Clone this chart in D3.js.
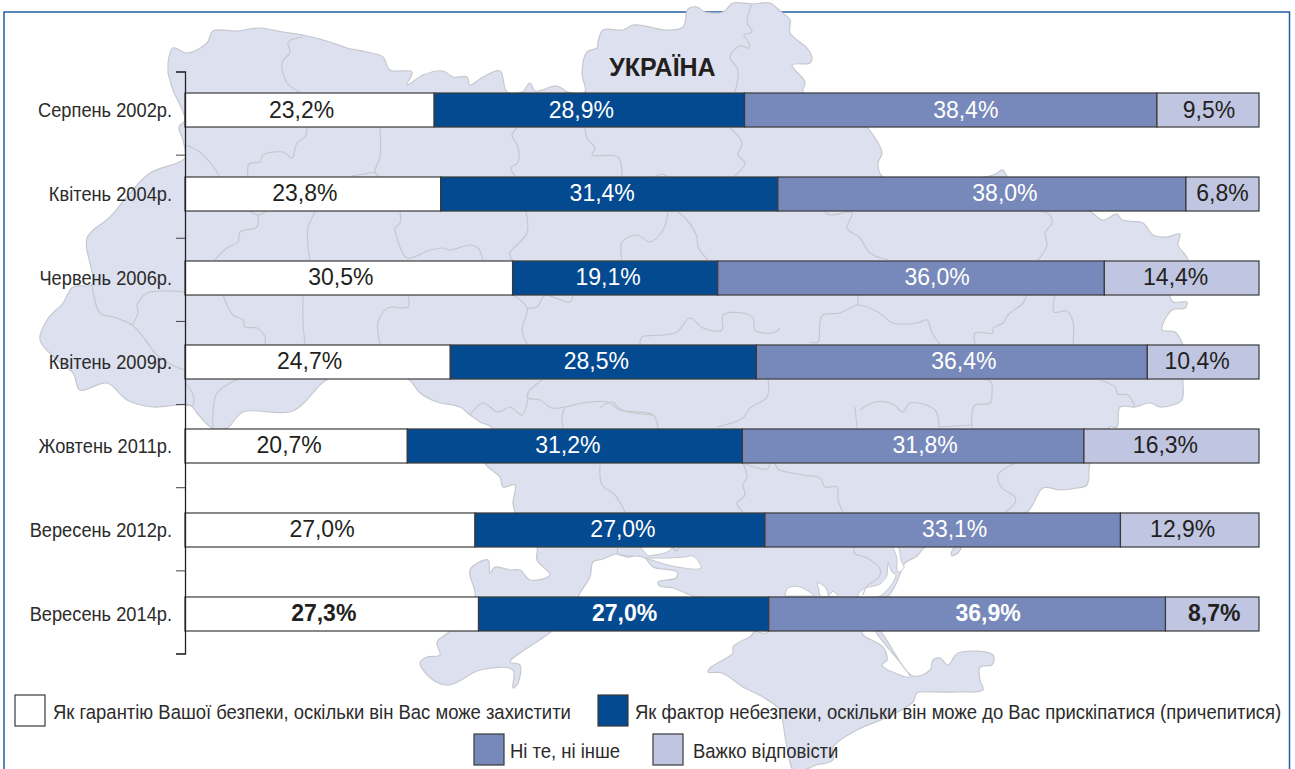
<!DOCTYPE html>
<html>
<head>
<meta charset="utf-8">
<script src="https://cdn.jsdelivr.net/npm/d3@7"></script>
<style>
body { margin: 0; background: #fff; }
text { font-family: "Liberation Sans", Arial, sans-serif; fill: #231f20; }
</style>
</head>
<body>
<script>
//width and height of svg
var w = 1295;
var h = 769;

//chart data
var categories = ["Серпень 2002р.", "Квітень 2004р.", "Червень 2006р.", "Квітень 2009р.", "Жовтень 2011р.", "Вересень 2012р.", "Вересень 2014р."];
var guarantee = [23.2, 23.8, 30.5, 24.7, 20.7, 27.0, 27.3];
var danger = [28.9, 31.4, 19.1, 28.5, 31.2, 27.0, 27.0];
var neither = [38.4, 38.0, 36.0, 36.4, 31.8, 33.1, 36.9];
var hardToSay = [9.5, 6.8, 14.4, 10.4, 16.3, 12.9, 8.7];
var seriesNames = ["Як гарантію Вашої безпеки, оскільки він Вас може захистити",
    "Як фактор небезпеки, оскільки він може до Вас прискіпатися (причепитися)",
    "Ні те, ні інше",
    "Важко відповісти"];
var title = "УКРАЇНА";

//background map of Ukraine, traced by hand
var land = [[168,63],[173,48],[187,53],[207,43],[213,31],[237,31],[260,28],[283,32],[303,35],[330,42],[347,48],[367,52],[383,57],[390,70],[412,72],[407,85],[423,75],[443,71],[453,77],[467,77],[470,85],[483,77],[500,71],[507,92],[522,92],[530,83],[535,91],[557,86],[568,92],[585,92],[582,73],[587,52],[597,48],[598,42],[603,30],[623,30],[633,25],[650,27],[665,30],[683,27],[688,9],[697,7],[705,12],[723,12],[733,3],[752,4],[770,3],[780,11],[790,20],[790,33],[807,48],[812,58],[810,63],[792,65],[805,82],[803,92],[840,100],[868,128],[882,153],[878,163],[883,177],[950,180],[993,175],[1003,170],[1008,177],[1060,190],[1090,211],[1103,220],[1117,214],[1122,220],[1143,223],[1153,235],[1167,237],[1180,234],[1178,245],[1188,260],[1180,280],[1170,295],[1173,302],[1187,302],[1185,308],[1172,310],[1162,330],[1175,332],[1183,345],[1186,360],[1183,378],[1182,400],[1173,405],[1160,407],[1150,403],[1135,407],[1120,407],[1117,427],[1110,427],[1100,445],[1090,463],[1087,485],[1077,488],[1060,490],[1043,488],[1027,512],[970,530],[925,547],[917,556],[905,563],[902,569],[888,596],[860,600],[800,600],[700,597],[693,596],[673,588],[660,586],[658,582],[676,578],[677,572],[653,567],[645,558],[637,556],[627,557],[617,554],[603,559],[593,562],[590,577],[580,593],[572,610],[552,631],[510,662],[520,665],[518,683],[513,688],[513,670],[480,670],[450,685],[433,680],[420,663],[427,657],[440,655],[437,642],[450,631],[475,597],[470,570],[488,560],[490,573],[495,567],[510,570],[520,570],[530,580],[550,575],[537,560],[537,547],[525,530],[515,512],[513,503],[515,485],[503,487],[500,477],[485,463],[490,445],[492,428],[480,422],[470,415],[460,407],[437,402],[420,393],[408,379],[370,372],[328,379],[293,411],[243,412],[227,428],[212,428],[197,413],[190,405],[177,405],[153,407],[127,400],[107,383],[80,390],[73,373],[57,360],[40,340],[47,320],[63,303],[73,287],[92,284],[87,238],[110,217],[130,193],[150,173],[177,163],[185,158],[183,140],[179,127],[185,120],[173,90],[168,73]];
var crimea = [[755,631],[767,633],[768,628],[860,628],[863,635],[883,647],[887,660],[882,665],[900,675],[910,677],[875,630],[879,630],[913,676],[930,670],[933,660],[940,658],[948,665],[958,653],[993,655],[992,665],[980,667],[980,680],[983,690],[960,692],[933,692],[917,693],[913,702],[890,716],[857,730],[833,747],[833,760],[816,765],[795,772],[787,747],[783,723],[780,710],[763,697],[743,687],[722,673],[708,672],[710,668],[733,653],[733,647],[750,637]];
var spit = [[952,556],[958,553],[961,547],[955,547],[951,553]];
var water = [
    [[645,558],[668,558],[685,557],[693,556],[701,568],[677,567],[655,561]],
    [[640,547],[672,547],[667,552],[648,556]],
    [[888,562],[892,572],[896,575],[880,596],[858,596],[863,589],[880,584],[887,576]],
    [[893,547],[898,547],[901,560],[904,568],[898,572],[897,558]],
    [[785,596],[788,588],[800,587],[815,596]],
    [[817,582],[825,587],[828,596],[820,596]],
    [[833,591],[838,596],[828,596]]
];
var borders = [
    [[303,37],[288,42],[290,52],[282,63],[287,83],[300,92]],
    [[185,145],[200,152],[212,165],[220,177]],
    [[248,177],[249,164],[260,162],[263,155],[283,152],[292,158],[297,143],[305,137],[307,127]],
    [[380,127],[380,157],[375,172],[380,177]],
    [[352,176],[375,172]],
    [[250,211],[258,215],[265,212]],
    [[258,215],[257,227],[240,232],[238,242],[227,248],[215,260]],
    [[315,212],[308,228],[308,247],[310,260]],
    [[400,212],[400,223],[395,228],[397,238],[407,258],[430,250],[443,248],[450,250],[470,245],[478,248],[483,260]],
    [[526,212],[527,233],[510,253],[512,260]],
    [[622,260],[622,242],[637,235],[650,242],[663,230],[668,212]],
    [[678,212],[687,220],[697,237],[698,247],[708,260]],
    [[825,212],[830,215],[852,213],[847,228],[860,238],[870,253],[888,260]],
    [[1038,260],[1047,245],[1045,233],[1052,223],[1050,215],[1040,211]],
    [[517,128],[512,135],[518,147],[518,162],[511,168],[515,176]],
    [[585,128],[587,138],[595,148],[592,155],[618,157],[622,176]],
    [[730,128],[742,143],[738,155],[745,163],[735,176]],
    [[655,177],[662,174],[668,177]],
    [[752,4],[747,22],[752,32],[744,35],[750,45],[748,48],[740,46],[730,57],[738,70],[735,92]],
    [[132,325],[138,313],[137,305],[147,293],[163,291],[185,292]],
    [[92,285],[100,313],[113,317],[132,325],[147,342],[155,353],[172,365],[185,370]],
    [[223,295],[233,315],[243,320],[245,327],[257,328],[265,337],[265,344]],
    [[303,295],[303,322],[305,344]],
    [[408,295],[408,307],[388,308],[378,322],[378,333],[380,344]],
    [[513,295],[527,308],[522,330],[527,344]],
    [[527,308],[537,307],[545,295],[553,297],[570,302],[573,295]],
    [[640,344],[642,337],[663,335],[677,332],[690,318],[703,328],[722,330],[723,315],[743,313],[753,318],[755,330],[773,333],[780,328]],
    [[810,342],[818,342],[820,322],[823,315],[840,313],[858,305],[878,312],[893,323],[917,323],[927,320],[932,333],[940,344]],
    [[858,295],[858,305]],
    [[1027,295],[1023,303],[1008,315],[1003,323],[993,328],[993,333],[975,333],[975,344]],
    [[1055,295],[1054,312],[1067,311],[1073,322],[1073,344]],
    [[1100,380],[1115,387],[1118,394],[1128,395],[1135,407]],
    [[983,379],[991,382],[992,393],[990,403],[975,405],[972,413],[972,428]],
    [[972,425],[938,427]],
    [[860,410],[875,402],[893,404],[903,412],[910,403],[935,410],[939,427]],
    [[768,379],[767,397],[750,408],[743,418],[717,427]],
    [[600,408],[612,402],[622,410],[653,415],[658,428]],
    [[543,379],[528,393],[528,398],[540,400],[552,408],[565,407],[583,403],[607,402],[620,410],[653,415]],
    [[565,407],[562,417],[563,428]],
    [[528,398],[522,415],[510,407],[498,412],[483,403],[470,415]],
    [[855,407],[857,428]],
    [[238,379],[217,393],[213,413],[213,428]],
    [[185,382],[193,395],[193,405],[185,405]],
    [[743,463],[747,477],[743,485],[745,495],[737,503],[743,512]],
    [[743,463],[767,469],[770,463]],
    [[775,463],[778,469],[803,475],[820,478],[825,487],[837,487],[838,500],[843,512]],
    [[1015,463],[998,475],[1002,488],[1015,497],[1015,503],[1005,512]],
    [[600,465],[602,485],[615,495],[625,512]],
    [[854,547],[855,554],[865,557],[880,569],[879,577],[867,586],[863,595]],
    [[618,547],[618,554],[627,556],[633,556]],
    [[672,547],[677,551],[679,547]]
];

//set up the stack, each row is stretched to the full width
var rows = categories.map(function(c, i) {
    return { category: c, guarantee: guarantee[i], danger: danger[i], neither: neither[i], hardToSay: hardToSay[i] };
});
var keys = ["guarantee", "danger", "neither", "hardToSay"];
var stacks = d3.stack().keys(keys).offset(d3.stackOffsetExpand);
var color = d3.scaleOrdinal().domain(keys).range(["#ffffff", "#034a90", "#7789ba", "#c0c6e1"]);
var labelColor = d3.scaleOrdinal().domain(keys).range(["#231f20", "#ffffff", "#ffffff", "#231f20"]);

//set up the svg canvas
var svg = d3.select("body")
            .append("svg")
            .attr("width", w)
            .attr("height", h)
            .style("display", "block");

//blue frame
svg.append("rect")
    .attr("x", 4).attr("y", 12)
    .attr("width", 1285.5).attr("height", 770)
    .attr("fill", "none")
    .attr("stroke", "#1f5fa5")
    .attr("stroke-width", 1.5);

//map goes behind everything else
var mapLine = d3.line().curve(d3.curveCatmullRom.alpha(0.5));
var map = svg.append("g");
[land, crimea, spit].forEach(function(p) {
    map.append("path")
        .attr("d", mapLine(p) + "Z")
        .attr("fill", "#dde0ee")
        .attr("stroke", "#c6c8ce")
        .attr("stroke-width", 1.2);
});
water.forEach(function(p) {
    map.append("path")
        .attr("d", mapLine(p) + "Z")
        .attr("fill", "#ffffff")
        .attr("stroke", "#c6c8ce")
        .attr("stroke-width", 1);
});
borders.forEach(function(p) {
    map.append("path")
        .attr("d", mapLine(p))
        .attr("fill", "none")
        .attr("stroke", "#c6c8ce")
        .attr("stroke-width", 1.2);
});

//scales
var xScale = d3.scaleLinear().domain([0, 1]).range([185, 1259]);
var yScale = d3.scaleBand()
                .domain(categories)
                .range([93, 631])
                .paddingInner(0.595);

//title
svg.append("text")
    .attr("x", 662.5).attr("y", 75.5)
    .attr("text-anchor", "middle")
    .style("font-weight", "bold")
    .style("font-size", "25px")
    .text(title);

//draw the rectangles
var groups = svg.selectAll("g.series")
                .data(stacks(rows))
                .enter()
                .append("g")
                .attr("class", "series");

groups.selectAll("rect")
    .data(function(d) { return d; })
    .enter()
    .append("rect")
    .attr("x", function(d) { return xScale(d[0]); })
    .attr("y", function(d) { return yScale(d.data.category); })
    .attr("width", function(d) { return xScale(d[1]) - xScale(d[0]); })
    .attr("height", yScale.bandwidth())
    .attr("fill", function(d) { return color(d3.select(this.parentNode).datum().key); })
    .attr("stroke", "#3a3a3a")
    .attr("stroke-width", 1.2);

//the labels are not centred in the original, each one is moved by hand
var nudge = [[-8,-8,15,1], [-8,-7,23,0], [-8,-7,26,-6], [-8,-7,12,-6], [-7,-7,12,-6], [-8,3,12,-7], [-8,1,21,2]];

groups.each(function(s, k) {
    d3.select(this).selectAll("text")
        .data(s)
        .enter()
        .append("text")
        .attr("x", function(d, i) { return (xScale(d[0]) + xScale(d[1])) / 2 + nudge[i][k]; })
        .attr("y", function(d) { return yScale(d.data.category) + 24.5; })
        .attr("text-anchor", "middle")
        .style("font-size", "23px")
        .style("fill", labelColor(s.key))
        .style("font-weight", function(d, i) { return i === categories.length - 1 ? "bold" : "normal"; })
        .text(function(d) { return d.data[s.key].toFixed(1).replace(".", ",") + "%"; });
});

//axis with ticks between the rows
var tickScale = d3.scaleLinear().domain([0, categories.length]).range([71.5, 653.5]);
var tickAxis = svg.append("g")
    .attr("transform", "translate(185,0)")
    .call(d3.axisLeft(tickScale).ticks(categories.length).tickSize(9).tickSizeOuter(9).tickFormat(""));
tickAxis.selectAll("line").attr("stroke", "#444");
tickAxis.select(".domain").attr("stroke", "#222").attr("stroke-width", 1.3);

//no narrow font is installed, so squeeze the glyphs to the original width
function squeeze(sel, factor) {
    sel.each(function() {
        d3.select(this)
            .attr("textLength", this.getComputedTextLength() * factor)
            .attr("lengthAdjust", "spacingAndGlyphs");
    });
}

//category names
var nameAxis = svg.append("g")
    .attr("transform", "translate(185,0)")
    .call(d3.axisLeft(yScale).tickSize(0).tickPadding(13));
nameAxis.select(".domain").remove();
nameAxis.selectAll("text")
    .style("font-family", "'Liberation Sans', Arial, sans-serif")
    .style("font-size", "20.5px")
    .style("fill", "#2b2b2b")
    .call(squeeze, 0.89);

//legend
var legendSpots = [{ x: 15, y: 695, tx: 53 }, { x: 598, y: 695, tx: 635 }, { x: 474, y: 734, tx: 510 }, { x: 653, y: 734, tx: 693 }];
var legend = svg.selectAll("g.legend")
                .data(keys)
                .enter()
                .append("g")
                .attr("class", "legend");
legend.append("rect")
    .attr("x", function(d, i) { return legendSpots[i].x; })
    .attr("y", function(d, i) { return legendSpots[i].y; })
    .attr("width", 30)
    .attr("height", 31)
    .attr("fill", function(d) { return color(d); })
    .attr("stroke", "#3a3a3a")
    .attr("stroke-width", 1.2);
legend.append("text")
    .attr("x", function(d, i) { return legendSpots[i].tx; })
    .attr("y", function(d, i) { return legendSpots[i].y + 24; })
    .style("font-size", "20.5px")
    .style("fill", "#2b2b2b")
    .text(function(d, i) { return seriesNames[i]; })
    .call(squeeze, 0.9);
</script>
</body>
</html>
